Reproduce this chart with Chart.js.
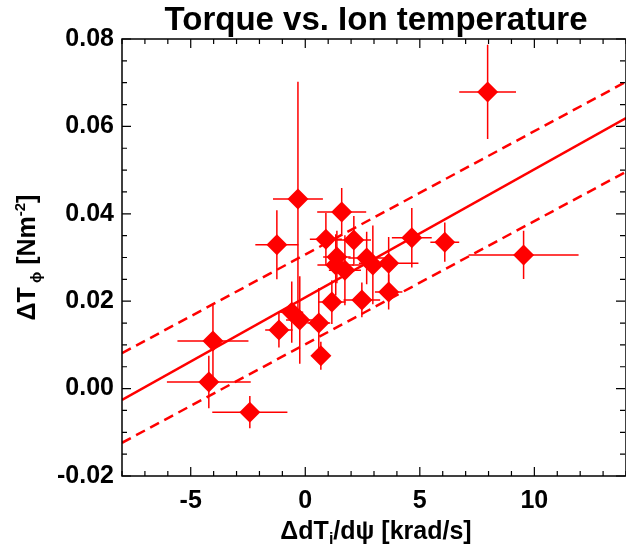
<!DOCTYPE html>
<html><head><meta charset="utf-8">
<script src="https://cdn.jsdelivr.net/npm/chart.js@4"></script>
<style>html,body{margin:0;padding:0;background:#fff}#wrap{width:626px;height:550px}</style>
</head><body><div id="wrap"><canvas id="c" width="626" height="550"></canvas></div>
<script>
// ---- data ----
const xValues = [7.96, 9.53, 6.09, 4.65, -0.32, 1.59, -1.24, 0.90, 2.12, 1.38, 1.33, 1.73, 2.68, 2.95, 3.64, 3.64, 2.47, 1.16, -0.59, -0.24, 0.59, -1.15, -4.03, -4.21, -2.42, 0.68];
const yValues = [0.0679, 0.0306, 0.0335, 0.0345, 0.0434, 0.0404, 0.0329, 0.0342, 0.0340, 0.0301, 0.0283, 0.0271, 0.0299, 0.0283, 0.0287, 0.0221, 0.0203, 0.0198, 0.0175, 0.0157, 0.0150, 0.0134, 0.0109, 0.0015, -0.0054, 0.0075];
const xErrors = [1.24, 2.40, 0.63, 0.87, 1.09, 1.07, 0.94, 0.70, 0.75, 0.60, 0.80, 0.70, 0.80, 0.90, 1.30, 0.60, 0.80, 0.60, 0.50, 0.60, 0.50, 0.60, 1.55, 1.83, 1.64, 0.40];
const yErrors = [0.0108, 0.0055, 0.0045, 0.0068, 0.0268, 0.0055, 0.0079, 0.0060, 0.0055, 0.0060, 0.0070, 0.0080, 0.0060, 0.0090, 0.0060, 0.0040, 0.0040, 0.0050, 0.0070, 0.0100, 0.0080, 0.0040, 0.0087, 0.0060, 0.0037, 0.0032];
const fitX = [-8, 14];
const fitY = [-0.0026, 0.0619];
const fitUpperY = [0.0081, 0.0702];
const fitLowerY = [-0.0124, 0.0496];
const xTickValues = [-5, 0, 5, 10];
const xTickLabels = ['-5', '0', '5', '10'];
const yTickValues = [-0.02, 0, 0.02, 0.04, 0.06, 0.08];
const yTickLabels = ['-0.02', '0.00', '0.02', '0.04', '0.06', '0.08'];
const chartTitle = 'Torque vs. Ion temperature';

const RED = '#ff0000';
const FONT = '"Liberation Sans", Arial, Helvetica, sans-serif';

const pts = xValues.map((x, i) => ({x, y: yValues[i]}));
const line = ys => fitX.map((x, i) => ({x, y: ys[i]}));

const errPlugin = {
  id: 'errbars',
  beforeDatasetsDraw(chart) {
    const xs = chart.scales.x, ys = chart.scales.y, ctx = chart.ctx, a = chart.chartArea;
    ctx.save();
    ctx.beginPath(); ctx.rect(a.left, a.top, a.right - a.left, a.bottom - a.top); ctx.clip();
    ctx.strokeStyle = RED; ctx.lineWidth = 1.5;
    xValues.forEach((x, i) => {
      const y = yValues[i];
      const px = xs.getPixelForValue(x), py = ys.getPixelForValue(y);
      ctx.beginPath();
      ctx.moveTo(xs.getPixelForValue(x - xErrors[i]), py);
      ctx.lineTo(xs.getPixelForValue(x + xErrors[i]), py);
      ctx.moveTo(px, ys.getPixelForValue(y - yErrors[i]));
      ctx.lineTo(px, ys.getPixelForValue(y + yErrors[i]));
      ctx.stroke();
    });
    ctx.restore();
  }
};

const framePlugin = {
  id: 'frame',
  afterDatasetsDraw(chart) {
    const xs = chart.scales.x, ys = chart.scales.y, ctx = chart.ctx, a = chart.chartArea;
    ctx.save();
    ctx.strokeStyle = '#000'; ctx.lineWidth = 1.5;
    ctx.strokeRect(a.left, a.top, a.right - a.left, a.bottom - a.top);
    ctx.lineWidth = 1.2;
    ctx.beginPath();
    for (let v = Math.ceil(xs.min); v <= xs.max + 1e-9; v += 1) {
      const p = xs.getPixelForValue(v);
      const len = (v % 5 === 0) ? 9 : 5;
      ctx.moveTo(p, a.bottom); ctx.lineTo(p, a.bottom - len);
      ctx.moveTo(p, a.top); ctx.lineTo(p, a.top + len);
    }
    for (let k = Math.round(ys.min / 0.005); k <= Math.round(ys.max / 0.005); k++) {
      const p = ys.getPixelForValue(k * 0.005);
      const len = (k % 4 === 0) ? 9 : 5;
      ctx.moveTo(a.left, p); ctx.lineTo(a.left + len, p);
      ctx.moveTo(a.right - 1, p); ctx.lineTo(a.right - 1 - len, p);
    }
    ctx.stroke();
    ctx.restore();
  }
};

function drawRich(ctx, parts, x, y) {
  let total = 0;
  parts.forEach(p => { ctx.font = 'bold ' + p.s + 'px ' + FONT; p.w = ctx.measureText(p.t).width; total += p.w; });
  let cx = x - total / 2;
  ctx.textAlign = 'left'; ctx.textBaseline = 'alphabetic';
  parts.forEach(p => { ctx.font = 'bold ' + p.s + 'px ' + FONT; ctx.fillText(p.t, cx, y + (p.dy || 0)); cx += p.w; });
}

const titlePlugin = {
  id: 'titles',
  afterDraw(chart) {
    const ctx = chart.ctx, a = chart.chartArea;
    ctx.save();
    ctx.fillStyle = '#000';
    const cx = (a.left + a.right) / 2 + 2;
    drawRich(ctx, [{t: chartTitle, s: 33}], cx, 30);
    drawRich(ctx, [{t: 'ΔdT', s: 25}, {t: 'i', s: 16, dy: 5}, {t: '/dψ [krad/s]', s: 25}], cx, 539);
    ctx.translate(35, (a.top + a.bottom) / 2);
    ctx.rotate(-Math.PI / 2);
    drawRich(ctx, [{t: 'ΔT', s: 25}, {t: ' ϕ', s: 15, dy: 6}, {t: ' [Nm', s: 25}, {t: '-2', s: 15, dy: -10}, {t: ']', s: 25}], 0, 0);
    ctx.restore();
  }
};

new Chart(document.getElementById('c'), {
  type: 'scatter',
  data: {
    datasets: [
      {data: pts, pointStyle: 'rectRot', pointRadius: 10.5, pointHoverRadius: 10.5, backgroundColor: RED, borderColor: RED, borderWidth: 0, showLine: false},
      {type: 'line', data: line(fitY), borderColor: RED, borderWidth: 2.5, pointRadius: 0, fill: false},
      {type: 'line', data: line(fitUpperY), borderColor: RED, borderWidth: 2.5, borderDash: [10, 6], pointRadius: 0, fill: false},
      {type: 'line', data: line(fitLowerY), borderColor: RED, borderWidth: 2.5, borderDash: [10, 6], pointRadius: 0, fill: false}
    ]
  },
  options: {
    responsive: false,
    animation: false,
    events: [],
    layout: {autoPadding: false, padding: {top: 39, right: 0, left: 0, bottom: 0}},
    plugins: {legend: {display: false}, tooltip: {enabled: false}, title: {display: false}},
    scales: {
      x: {
        type: 'linear', min: -8, max: 14,
        grid: {display: false, drawTicks: false}, border: {display: false},
        afterBuildTicks: s => { s.ticks = xTickValues.map(v => ({value: v})); },
        afterFit: s => { s.height = 74; s.paddingLeft = 0; s.paddingRight = 0; },
        ticks: {color: '#000', padding: 10, font: {family: FONT, size: 25, weight: 'bold'},
                callback: (v, i) => xTickLabels[i]}
      },
      y: {
        type: 'linear', min: -0.02, max: 0.08,
        grid: {display: false, drawTicks: false}, border: {display: false},
        afterBuildTicks: s => { s.ticks = yTickValues.map(v => ({value: v})); },
        afterFit: s => { s.width = 122; s.paddingTop = 0; s.paddingBottom = 0; },
        ticks: {color: '#000', padding: 8, font: {family: FONT, size: 25, weight: 'bold'},
                callback: (v, i) => yTickLabels[i]}
      }
    }
  },
  plugins: [errPlugin, framePlugin, titlePlugin]
});
</script>
</body></html>
